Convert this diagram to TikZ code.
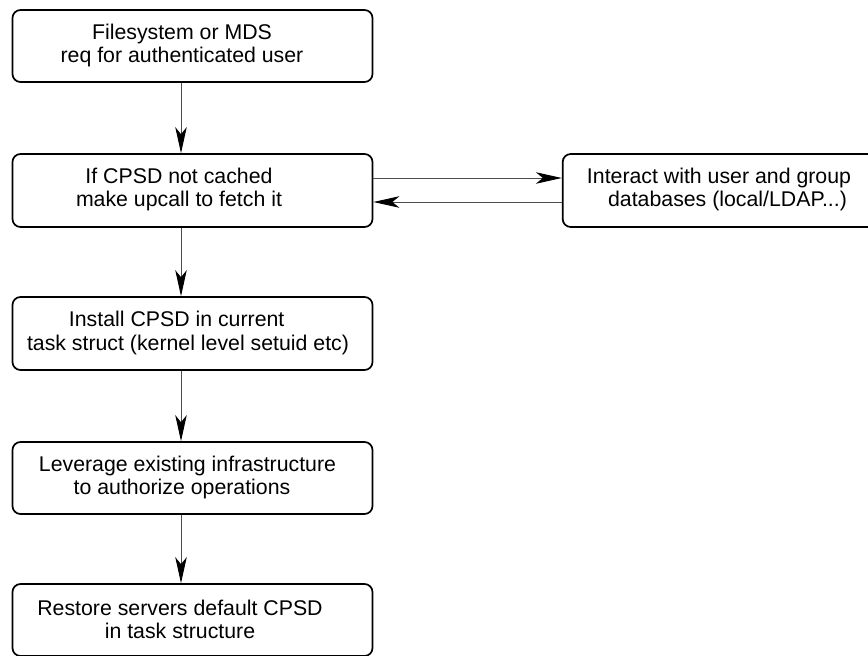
\documentclass[tikz,border=0pt]{standalone}
\usepackage{fontspec}
\setmainfont{Liberation Sans}
\usetikzlibrary{arrows.meta}
\begin{document}
\begin{tikzpicture}[x=1pt,y=-1pt,
  box/.style={draw, line width=1.7pt, rounded corners=8pt, minimum width=360pt, minimum height=72pt, inner sep=0pt},
  txt/.style={align=center, font=\fontsize{21.3}{23.5}\selectfont, inner sep=0pt},
  conn/.style={draw=black!70, line width=1pt, -{Stealth[length=26pt,width=11.5pt,inset=7pt,black]}}]
\path[use as bounding box, clip] (0,0) rectangle (868,656);
% boxes
\node[box] (b1) at (192.5,46) {};
\node[box, minimum height=73pt] (b2) at (192.5,190.5) {};
\node[box, minimum height=73pt] (b3) at (192.5,333.5) {};
\node[box] (b4) at (192.5,478) {};
\node[box] (b5) at (192.5,620) {};
\node[box, minimum width=320pt, minimum height=73pt] (r) at (722.7,190.5) {};
% labels
\node[txt] (t1) at (182,45.5) {Filesystem or MDS\\req for authenticated user};
\node[txt] (t2) at (179,189.5) {If CPSD not cached\\make upcall to fetch it};
\node[txt] (t3) at (182,333) {\hspace*{-10.6pt}Install CPSD in current\\\hspace*{12pt}task struct (kernel level setuid etc)};
\node[txt] (t4) at (182,477.5) {\hspace*{11pt}Leverage existing infrastructure\\to authorize operations};
\node[txt] (t5) at (180,619.5) {Restore servers default CPSD\\in task structure};
\node[txt] (tr) at (719,189.5) {Interact with user and group\\\hspace*{17pt}databases (local/LDAP...)};
% connectors
\coordinate (ax) at (181,0);
\draw[conn] (ax |- b1.south) -- (ax |- b2.north);
\draw[conn] (ax |- b2.south) -- (ax |- b3.north);
\draw[conn] (ax |- b3.south) -- (ax |- b4.north);
\draw[conn] (ax |- b4.south) -- (ax |- b5.north);
\draw[conn] (b2.east |- 0,178) -- (r.west |- 0,178);
\draw[conn] (r.west |- 0,202) -- (b2.east |- 0,202);
\end{tikzpicture}
\end{document}
